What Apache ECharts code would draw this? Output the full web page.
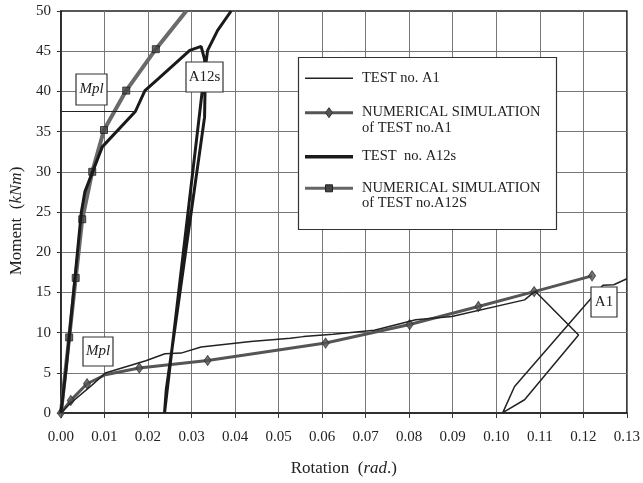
<!DOCTYPE html>
<html><head><meta charset="utf-8">
<script src="https://cdn.jsdelivr.net/npm/echarts@6/dist/echarts.min.js"></script>
<style>html,body{margin:0;padding:0;background:#fff}#c{width:643px;height:483px}</style>
</head><body><div id="c"></div>
<script>
// ---- data (rotation [rad], moment [kNm]) ----
const testA1 = [[0,0],[0.00227,1.24],[0.0072,3.5],[0.0102,4.97],[0.0195,6.5],[0.0239,7.37],[0.0276,7.45],[0.0322,8.2],[0.0436,8.9],[0.0527,9.3],[0.0557,9.5],[0.0625,9.8],[0.072,10.3],[0.0815,11.6],[0.0898,12.0],[0.1065,14.07],[0.1084,14.9],[0.109,15.1],[0.1189,9.7],[0.1065,1.65],[0.1015,0.05],[0.1042,3.3],[0.1212,13.9],[0.1245,15.9],[0.127,15.95],[0.13,16.7]];
const simA1 = [[0,0],[0.00227,1.57],[0.006,3.64],[0.0102,4.76],[0.018,5.6],[0.0337,6.53],[0.0608,8.7],[0.0801,11.0],[0.0959,13.25],[0.1087,15.1],[0.122,17.06]];
const simA1Marks = [[0,0],[0.00227,1.57],[0.006,3.64],[0.018,5.6],[0.0337,6.53],[0.0608,8.7],[0.0801,11.0],[0.0959,13.25],[0.1087,15.1],[0.122,17.06]];
const testA12s = [[0,0],[0.0012,5.5],[0.0047,25],[0.0055,27.5],[0.0095,33.1],[0.0171,37.5],[0.0193,40.1],[0.0224,41.6],[0.0296,45.1],[0.0322,45.6],[0.033,44.0],[0.0331,40.0],[0.033,36.8],[0.0242,2.9],[0.0238,0],[0.0324,39.75],[0.0337,45.1],[0.036,47.6],[0.0391,50]];
const simA12S = [[0,0],[0.0019,9.4],[0.0034,16.8],[0.0049,24.1],[0.0072,30.0],[0.0099,35.2],[0.015,40.1],[0.0218,45.25],[0.0288,50]];
const simA12SMarks = [[0.0019,9.4],[0.0034,16.8],[0.0049,24.1],[0.0072,30.0],[0.0099,35.2],[0.015,40.1],[0.0218,45.25]];
const mplLine = [[0,37.5],[0.0171,37.5]];
const legendNames = ['TEST no. A1','NUMERICAL SIMULATION\nof TEST no.A1','TEST  no. A12s','NUMERICAL SIMULATION\nof TEST no.A12S'];

const F = '"Liberation Serif","Times New Roman",serif';
const chart = echarts.init(document.getElementById('c'), null, {renderer:'canvas'});

function legendRow(y, lineW, color, marker, text, textY) {
  const els = [{type:'line', shape:{x1:305,y1:y,x2:353,y2:y}, style:{stroke:color,lineWidth:lineW}}];
  if (marker === 'diamond') els.push({type:'polygon', shape:{points:[[329,y-5],[332.5,y],[329,y+5],[325.5,y]]}, style:{fill:'#555',stroke:'#333',lineWidth:1}});
  if (marker === 'square') els.push({type:'rect', shape:{x:325.5,y:y-3.5,width:7,height:7}, style:{fill:'#444',stroke:'#222',lineWidth:1}});
  els.push({type:'text', x:362, y:textY, style:{text:text, font:'14.5px '+F, fill:'#222', lineHeight:15.5, verticalAlign:'top'}});
  return els;
}
function box(x,y,w,h,text,italic){
  return [{type:'rect', shape:{x:x,y:y,width:w,height:h}, style:{fill:'#fff',stroke:'#333',lineWidth:1.2}, z:100},
          {type:'text', x:x+w/2, y:y+h/2, style:{text:text, font:(italic?'italic ':'')+'15px '+F, fill:'#222', align:'center', verticalAlign:'middle'}, z:101}];
}

const graphics = [].concat(
  [{type:'rect', shape:{x:298.5,y:57.5,width:258,height:172}, style:{fill:'#fff',stroke:'#333',lineWidth:1.2}, z:100}],
  legendRow(78.3,1.5,'#222',null,legendNames[0],70).map(e=>Object.assign(e,{z:101})),
  legendRow(112.7,3,'#555','diamond',legendNames[1],104.5).map(e=>Object.assign(e,{z:101})),
  legendRow(156.7,3.5,'#1a1a1a',null,legendNames[2],148.5).map(e=>Object.assign(e,{z:101})),
  legendRow(188.3,3,'#666','square',legendNames[3],180).map(e=>Object.assign(e,{z:101})),
  box(76,74,31,31,'Mpl',true),
  box(83,337,30,29,'Mpl',true),
  box(186,62,37,30,'A12s',false),
  box(591,287,26,30,'A1',false)
);

chart.setOption({
  animation:false,
  backgroundColor:'#fff',
  grid:{left:58,right:13,top:11,bottom:70,show:true,borderColor:'#222',borderWidth:1.5,backgroundColor:'transparent'},
  xAxis:{type:'value',min:0,max:0.13,interval:0.01,
    name:'Rotation  ({i|rad}.)', nameLocation:'middle', nameGap:47,
    nameTextStyle:{fontFamily:F,fontSize:17,color:'#222',rich:{i:{fontFamily:F,fontSize:17,fontStyle:'italic',color:'#222'}}},
    axisLine:{show:true,lineStyle:{color:'#222',width:1.5}},
    axisTick:{show:true,length:5,lineStyle:{color:'#333'}},
    axisLabel:{fontFamily:F,fontSize:15,color:'#222',margin:17,formatter:v=>v.toFixed(2)},
    splitLine:{show:true,showMinLine:false,showMaxLine:false,lineStyle:{color:'#777',width:1}}},
  yAxis:{type:'value',min:0,max:50,interval:5,
    name:'Moment  ({i|kNm})', nameLocation:'middle', nameGap:32,
    nameTextStyle:{fontFamily:F,fontSize:17,color:'#222',padding:[0,18,0,0],rich:{i:{fontFamily:F,fontSize:17,fontStyle:'italic',color:'#222'}}},
    axisLine:{show:true,lineStyle:{color:'#222',width:1.5}},
    axisTick:{show:true,length:4,lineStyle:{color:'#333'}},
    axisLabel:{fontFamily:F,fontSize:15,color:'#222',margin:10},
    splitLine:{show:true,showMinLine:false,showMaxLine:false,lineStyle:{color:'#777',width:1}}},
  series:[
    {name:legendNames[3],type:'line',data:simA12S,showSymbol:false,symbol:'none',lineStyle:{color:'#6a6a6a',width:4},clip:true,z:2},
    {type:'scatter',data:simA12SMarks,symbol:'rect',symbolSize:7,itemStyle:{color:'#444',borderColor:'#222',borderWidth:1},z:3},
    {name:legendNames[1],type:'line',data:simA1,showSymbol:false,symbol:'none',lineStyle:{color:'#555',width:3},clip:true,z:2},
    {type:'scatter',data:simA1Marks,symbol:'diamond',symbolSize:[7,10],itemStyle:{color:'#555',borderColor:'#333',borderWidth:1},z:3},
    {name:legendNames[2],type:'line',data:testA12s,showSymbol:false,symbol:'none',lineStyle:{color:'#1a1a1a',width:3},clip:true,z:4},
    {name:legendNames[0],type:'line',data:testA1,showSymbol:false,symbol:'none',lineStyle:{color:'#222',width:1.5},clip:true,z:4},
    {type:'line',data:mplLine,showSymbol:false,symbol:'none',lineStyle:{color:'#222',width:1.2},z:4}
  ],
  graphic:graphics
});
</script></body></html>
